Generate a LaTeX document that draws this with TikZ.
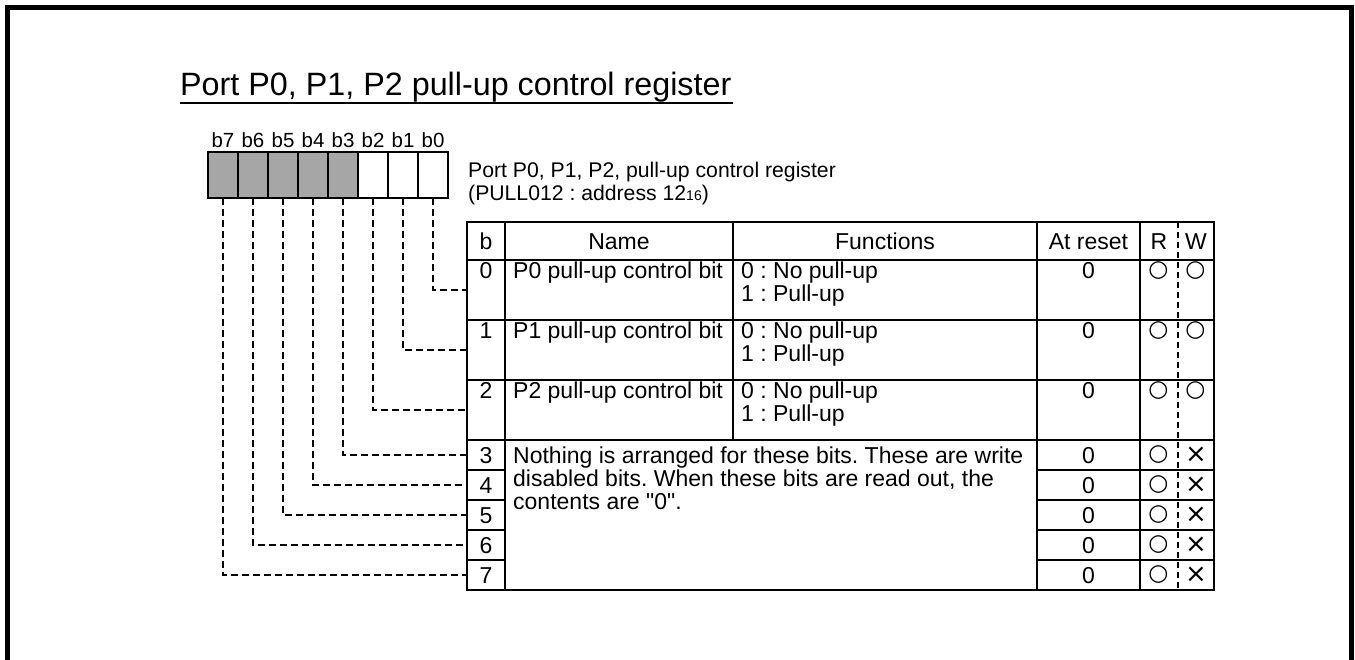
\documentclass[tikz,border=0pt]{standalone}
\usepackage{fontspec}
\setmainfont{Liberation Sans}[Ligatures=TeXOff]
\newfontfamily\symfont{DejaVu Sans}
\frenchspacing
\begin{document}
\begin{tikzpicture}[x=1pt,y=-1pt,
  frame/.style={line width=5pt},
  tline/.style={line width=1.6pt},
  bitbox/.style={draw, line width=1.6pt, minimum width=30pt, minimum height=46pt, inner sep=0pt, outer sep=0pt, anchor=north west},
  shaded/.style={fill=black!35},
  bcell/.style={draw, line width=1.6pt, minimum width=38pt, inner sep=0pt, outer sep=0pt, anchor=north west},
  conn/.style={line width=1.6pt, dash pattern=on 7pt off 4pt},
  rwdiv/.style={line width=1.2pt, dash pattern=on 6pt off 4pt},
  body/.style={inner sep=0pt, font=\fontsize{23}{27}\selectfont},
  bitlbl/.style={inner sep=0pt, anchor=base, font=\fontsize{20.5}{22}\selectfont},
  circ/.style={inner sep=0pt, anchor=center, font=\symfont\fontsize{23}{24}\selectfont},
  cross/.style={inner sep=0pt, anchor=center, font=\symfont\fontsize{26}{26}\selectfont}
]
\useasboundingbox (0,0) rectangle (1355,659);
% outer frame
\draw[frame] (7,662) -- (7,7) -- (1351,7) -- (1351,662);
% title
\node[inner sep=0pt, anchor=base west, font=\fontsize{32.3}{36}\selectfont] (title) at (180,95) {Port P0, P1, P2 pull-up control register};
\draw[line width=1.4pt] (180,103) -- (733,103);
% bit boxes
\node[bitbox, shaded] (bit7) at (208,152) {};
\node[bitbox, shaded] (bit6) at (238,152) {};
\node[bitbox, shaded] (bit5) at (268,152) {};
\node[bitbox, shaded] (bit4) at (298,152) {};
\node[bitbox, shaded] (bit3) at (328,152) {};
\node[bitbox] (bit2) at (358,152) {};
\node[bitbox] (bit1) at (388,152) {};
\node[bitbox] (bit0) at (418,152) {};
\foreach \i in {0,...,7} {\node[bitlbl] at ([yshift=5pt]bit\i.north) {b\i};}
% subtitle
\node[inner sep=0pt, anchor=base west, font=\fontsize{21.2}{25}\selectfont] (sub1) at (468,177) {Port P0, P1, P2, pull-up control register};
\node[inner sep=0pt, anchor=base west, font=\fontsize{21.2}{25}\selectfont] (sub2) at (468,200) {(PULL012 : address 12{\fontsize{14}{14}\selectfont 16})};
% table b-column cells
\node[bcell, minimum height=38pt] (bh) at (467,222) {};
\node[bcell, minimum height=60pt] (c0) at (467,260) {};
\node[bcell, minimum height=60pt] (c1) at (467,320) {};
\node[bcell, minimum height=60pt] (c2) at (467,380) {};
\node[bcell, minimum height=30pt] (c3) at (467,440) {};
\node[bcell, minimum height=30pt] (c4) at (467,470) {};
\node[bcell, minimum height=30pt] (c5) at (467,500) {};
\node[bcell, minimum height=30pt] (c6) at (467,530) {};
\node[bcell, minimum height=30pt] (c7) at (467,560) {};
% grid
\draw[tline] (467,222) rectangle (1214,590);
\draw[tline] (467,260) -- (1214,260);
\draw[tline] (467,320) -- (1214,320);
\draw[tline] (467,380) -- (1214,380);
\draw[tline] (467,440) -- (1214,440);
\foreach \yy in {470,500,530,560} {\draw[tline] (1037,\yy) -- (1214,\yy);}
\draw[tline] (505,222) -- (505,590);
\draw[tline] (733,222) -- (733,440);
\draw[tline] (1037,222) -- (1037,590);
\draw[tline] (1140,222) -- (1140,590);
\draw[rwdiv] (1178,222) -- (1178,590);
% header
\node[body, anchor=base] at (486,249) {b};
\node[body, anchor=base] at (619,249) {Name};
\node[body, anchor=base] at (885,249) {Functions};
\node[body, anchor=base] at (1088.5,249) {At reset};
\node[body, anchor=base] at (1159,249) {R};
\node[body, anchor=base] at (1196,249) {W};
% rows 0-2
\foreach \r/\yy in {0/278,1/338,2/398} {
  \node[body, anchor=base] at (486,\yy) {\r};
  \node[body, anchor=base west] at (513,\yy) {P\r\ pull-up control bit};
  \node[body, anchor=base west] at (741,\yy) {0 : No pull-up};
  \node[body, anchor=base west] at (741,\yy+23) {1 : Pull-up};
  \node[body, anchor=base] at (1088.5,\yy) {0};
  \node[circ] at (1158.5,\yy-7) {○};
  \node[circ] at (1195.5,\yy-7) {○};
}
% rows 3-7
\foreach \r/\yy/\cy in {3/463/455,4/493/485,5/523/515,6/553/545,7/583/575} {
  \node[body, anchor=base] at (486,\yy) {\r};
  \node[body, anchor=base] at (1088.5,\yy) {0};
  \node[circ] at (1158.5,\cy) {○};
  \node[cross] at (1196,\cy) {×};
}
\node[body, anchor=base west] at (513,463) {Nothing is arranged for these bits. These are write};
\node[body, anchor=base west] at (513,486) {disabled bits. When these bits are read out, the};
\node[body, anchor=base west] at (513,509) {contents are "0".};
% connectors
\foreach \i in {0,...,7} {\draw[conn] (bit\i.south) |- (c\i.west);}
\end{tikzpicture}
\end{document}
